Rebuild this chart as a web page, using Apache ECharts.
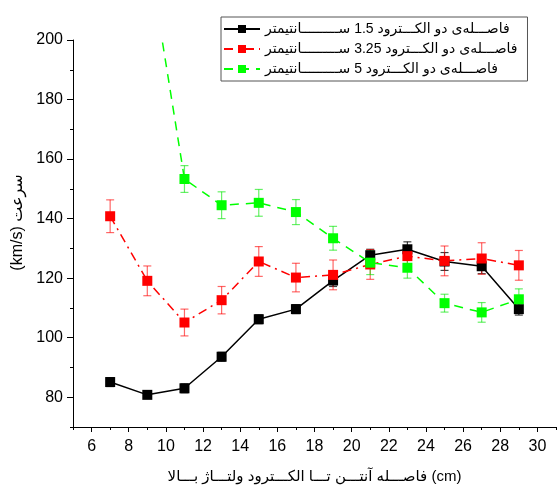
<!DOCTYPE html>
<html><head><meta charset="utf-8">
<script src="https://cdn.jsdelivr.net/npm/echarts@6/dist/echarts.min.js"></script>
<style>html,body{margin:0;padding:0;background:#fff}#c{width:557px;height:489px}</style>
</head><body><div id="c"></div>
<script>
const xValues = [7, 9, 11, 13, 15, 17, 19, 21, 23, 25, 27, 29];
const greenX = [9, 11, 13, 15, 17, 19, 21, 23, 25, 27, 29];
const black = [85.1, 80.8, 83.0, 93.6, 106.2, 109.6, 119.2, 127.7, 129.7, 125.6, 124.0, 109.6];
const blackErr = [1.5, 1.0, 1.5, 1.5, 1.5, 1.5, 2.0, 2.0, 2.5, 3.0, 2.5, 2.0];
const red = [140.8, 119.1, 105.1, 112.6, 125.6, 120.2, 121.1, 124.6, 127.4, 125.8, 126.6, 124.3];
const redErr = [5.5, 5.0, 4.5, 4.6, 5.0, 4.8, 5.0, 5.0, 3.0, 5.0, 5.3, 5.0];
const green = [231, 153.3, 144.5, 145.3, 142.2, 133.4, 125.2, 123.5, 111.6, 108.5, 112.9];
const greenErr = [5.0, 4.5, 4.5, 4.5, 4.2, 4.0, 4.0, 3.5, 3.0, 3.3, 3.5];
const names = [
  'فاصـــلەی دو الکـــترود 1.5 ســـــــــانتیمتر',
  'فاصـــلەی دو الکـــترود 3.25 ســـــــــانتیمتر',
  'فاصـــلەی دو الکـــترود 5 ســـــــــانتیمتر'
];
const xName = 'فاصـــله آنتـــن تـــا الکـــترود ولتـــاژ بـــالا (cm)';
const yName = '(km/s) سرعت';
const xLabelTicks = [6, 8, 10, 12, 14, 16, 18, 20, 22, 24, 26, 28, 30];
const xMinorTicks = [5, 7, 9, 11, 13, 15, 17, 19, 21, 23, 25, 27, 29, 31];
const yLabelTicks = [80, 100, 120, 140, 160, 180, 200];
const yMinorTicks = [70, 90, 110, 130, 150, 170, 190];

const font = '"Liberation Sans", Arial, "DejaVu Sans", sans-serif';
const colors = ['#000000', '#ff0000', '#00ff00'];
const errColors = ['rgba(0,0,0,0.75)', 'rgba(255,0,0,0.6)', 'rgba(0,230,0,0.6)'];

function pairs(xs, ys) { return xs.map((x, i) => [x, ys[i]]); }
function errData(xs, ys, es) { return xs.map((x, i) => [x, ys[i] - es[i], ys[i] + es[i]]); }
function errSeries(data, color, id) {
  return {
    type: 'custom', name: 'err' + id, data: data, z: 1, clip: true,
    xAxisIndex: 0, yAxisIndex: 0,
    renderItem: function (params, api) {
      const x = api.value(0), lo = api.value(1), hi = api.value(2);
      const a = api.coord([x, hi]), b = api.coord([x, lo]);
      const w = 4;
      const st = { stroke: color, lineWidth: 1.2 };
      return {
        type: 'group', children: [
          { type: 'line', shape: { x1: a[0], y1: a[1], x2: b[0], y2: b[1] }, style: st },
          { type: 'line', shape: { x1: a[0] - w, y1: a[1], x2: a[0] + w, y2: a[1] }, style: st },
          { type: 'line', shape: { x1: b[0] - w, y1: b[1], x2: b[0] + w, y2: b[1] }, style: st }
        ]
      };
    }
  };
}

const chart = echarts.init(document.getElementById('c'), null, { renderer: 'canvas' });
chart.setOption({
  animation: false,
  backgroundColor: '#fff',
  textStyle: { fontFamily: font },
  grid: { left: 73, right: 1, top: 40, bottom: 61, containLabel: false },
  legend: {
    data: names, orient: 'vertical', left: 221, top: 17,
    padding: [5, 10, 5, 2], itemGap: 6, itemWidth: 36, itemHeight: 10,
    borderColor: '#555', borderWidth: 1, backgroundColor: '#fff',
    textStyle: { fontFamily: font, fontSize: 14, color: '#000', lineHeight: 14 }
  },
  xAxis: [{
    type: 'value', min: 5, max: 31, position: 'bottom',
    name: xName, nameLocation: 'middle', nameGap: 42,
    nameTextStyle: { fontSize: 15, color: '#000', fontFamily: font },
    axisLine: { show: true, lineStyle: { color: '#000', width: 1 } },
    axisTick: { show: true, length: 5, customValues: xLabelTicks, lineStyle: { color: '#000' } },
    axisLabel: { show: true, customValues: xLabelTicks, fontSize: 16, color: '#000', margin: 12, fontFamily: font },
    splitLine: { show: false }
  }, {
    type: 'value', min: 5, max: 31, position: 'bottom',
    axisLine: { show: false },
    axisTick: { show: true, length: 3, customValues: xMinorTicks, lineStyle: { color: '#000' } },
    axisLabel: { show: false },
    splitLine: { show: false }
  }],
  yAxis: [{
    type: 'value', min: 70, max: 200, position: 'left',
    name: yName, nameLocation: 'middle', nameGap: 45, nameRotate: 90,
    nameTextStyle: { fontSize: 16, color: '#000', fontFamily: font, padding: [0, 0, 0, 22] },
    axisLine: { show: true, lineStyle: { color: '#000', width: 1 } },
    axisTick: { show: true, length: 6, customValues: yLabelTicks, lineStyle: { color: '#000' } },
    axisLabel: { show: true, customValues: yLabelTicks, fontSize: 16, color: '#000', margin: 10, fontFamily: font },
    splitLine: { show: false }
  }, {
    type: 'value', min: 70, max: 200, position: 'left',
    axisLine: { show: false },
    axisTick: { show: true, length: 3, customValues: yMinorTicks, lineStyle: { color: '#000' } },
    axisLabel: { show: false },
    splitLine: { show: false }
  }],
  series: [
    errSeries(errData(xValues, black, blackErr), errColors[0], 0),
    errSeries(errData(xValues, red, redErr), errColors[1], 1),
    errSeries(errData(greenX, green, greenErr), errColors[2], 2),
    {
      type: 'line', name: names[0], data: pairs(xValues, black), z: 3,
      symbol: 'rect', symbolSize: 10, showAllSymbol: true, clip: true,
      itemStyle: { color: colors[0] },
      lineStyle: { color: colors[0], width: 1.5, type: 'solid' }
    },
    {
      type: 'line', name: names[1], data: pairs(xValues, red), z: 4,
      symbol: 'rect', symbolSize: 10, showAllSymbol: true, clip: true,
      itemStyle: { color: colors[1] },
      lineStyle: { color: colors[1], width: 1.5, type: [9, 5, 2, 5] }
    },
    {
      type: 'line', name: names[2], data: pairs(greenX, green), z: 5,
      symbol: 'rect', symbolSize: 10, showAllSymbol: true, clip: true,
      itemStyle: { color: colors[2] },
      lineStyle: { color: colors[2], width: 1.5, type: [9, 7] }
    }
  ]
});
</script></body></html>
